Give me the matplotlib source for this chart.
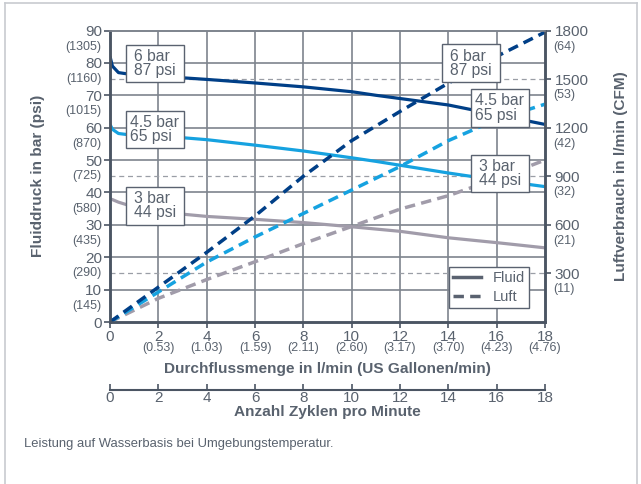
import matplotlib
matplotlib.use("Agg")
import matplotlib.pyplot as plt
from matplotlib.lines import Line2D
from matplotlib.patches import Rectangle

plt.rcParams['font.family'] = ['Liberation Sans', 'DejaVu Sans']

# flow (l/min) sample points
flow = [0, 0.1, 0.35, 1, 2, 3, 4, 6, 8, 10, 11, 12, 14, 16, 18]
# fluid pressure (bar) for the three air inlet pressures
fluid_6 = [82, 79, 77, 76.3, 75.8, 75.4, 74.9, 73.8, 72.6, 71.1, 70.0, 69.0, 67.0, 64.0, 61.0]
fluid_45 = [61, 59.5, 58.2, 57.6, 57.2, 56.9, 56.3, 54.6, 52.8, 50.7, 49.6, 48.4, 46.0, 43.8, 41.8]
fluid_3 = [38, 37.8, 37.0, 35.5, 34.3, 33.3, 32.6, 31.7, 30.7, 29.4, 28.7, 28.0, 26.0, 24.5, 22.9]

# air consumption (l/min)
flow_air = [0, 2, 4, 6, 8, 10, 12, 14, 16, 18]
air_6 = [0, 215, 430, 655, 900, 1120, 1300, 1475, 1640, 1790]
air_45 = [0, 185, 370, 525, 670, 815, 960, 1120, 1250, 1345]
air_3 = [0, 146, 262, 372, 484, 590, 697, 780, 885, 1000]

# axis labels
bar_ticks = [0, 10, 20, 30, 40, 50, 60, 70, 80, 90]
psi_labels = ['', '(145)', '(290)', '(435)', '(580)', '(725)', '(870)', '(1015)', '(1160)', '(1305)']
air_ticks = [300, 600, 900, 1200, 1500, 1800]
cfm_labels = ['(11)', '(21)', '(32)', '(42)', '(53)', '(64)']
x_ticks = [0, 2, 4, 6, 8, 10, 12, 14, 16, 18]
gal_labels = ['', '(0.53)', '(1.03)', '(1.59)', '(2.11)', '(2.60)', '(3.17)', '(3.70)', '(4.23)', '(4.76)']

# pressure label boxes: (x, y in bar, text)
boxes = [(1.86, 79.8, '6 bar\n87 psi'), (1.86, 59.5, '4.5 bar\n65 psi'),
         (1.86, 35.9, '3 bar\n44 psi'), (14.92, 79.9, '6 bar\n87 psi'),
         (16.13, 66.1, '4.5 bar\n65 psi'), (16.13, 45.9, '3 bar\n44 psi')]

navy = '#003f87'
light = '#16a2e0'
grey = '#a19caa'
txt = '#59626e'
axcol = '#4b5563'
gridcol = '#7e848d'
tick_fs = 11
minor_fs = 9
label_fs = 11.1

fig = plt.figure(figsize=(6.41, 4.84), dpi=100)
ax = fig.add_axes([110 / 641, 1 - 322 / 484, 435 / 641, 291.5 / 484])
ax2 = ax.twinx()

ax.set_xlim(0, 18)
ax.set_ylim(0, 90)
ax2.set_ylim(0, 1800)

# grid
for v in x_ticks[1:-1]:
    ax.axvline(v, color=gridcol, lw=1.2, zorder=0)
for v in bar_ticks[1:-1]:
    ax.axhline(v, color=gridcol, lw=1.2, zorder=0)
for v in [15, 45, 75]:
    ax.axhline(v, color='#9a9ea6', lw=0.9, ls=(0, (4, 3)), zorder=0)

lw = 2.3
ax.plot(flow, fluid_6, color=navy, lw=lw, solid_capstyle='butt')
ax.plot(flow, fluid_45, color=light, lw=lw, solid_capstyle='butt')
ax.plot(flow, fluid_3, color=grey, lw=lw, solid_capstyle='butt')

dash = (0, (3.0, 1.8))
ax2.plot(flow_air, air_3, color=grey, lw=2.5, ls=dash)
ax2.plot(flow_air, air_45, color=light, lw=2.5, ls=dash)
ax2.plot(flow_air, air_6, color=navy, lw=2.5, ls=dash)

# spines
for s in ['left', 'bottom', 'right']:
    ax.spines[s].set_color(axcol)
    ax.spines[s].set_linewidth(1.8)
    ax2.spines[s].set_color(axcol)
    ax2.spines[s].set_linewidth(1.8)
ax.spines['top'].set_color(gridcol)
ax2.spines['top'].set_color(gridcol)
ax.spines['top'].set_linewidth(1.2)
ax2.spines['top'].set_linewidth(1.2)

# left axis
ax.set_yticks(bar_ticks)
ax.set_yticklabels([str(v) for v in bar_ticks])
ax.set_yticks([v - 4.5 for v in bar_ticks[1:]], minor=True)
ax.set_yticklabels(psi_labels[1:], minor=True)
ax.tick_params(axis='y', which='major', length=4, width=1.2, color=axcol,
               labelsize=tick_fs, labelcolor=txt, pad=1.5)
ax.tick_params(axis='y', which='minor', length=0, labelsize=minor_fs, labelcolor=txt, pad=6)

# bottom axis
ax.set_xticks(x_ticks)
ax.set_xticklabels([str(v) for v in x_ticks])
ax.tick_params(axis='x', which='major', length=4, width=1.2, color=axcol,
               labelsize=tick_fs, labelcolor=txt, pad=1.5)

gal = ax.secondary_xaxis('bottom')
gal.set_xticks(x_ticks)
gal.set_xticklabels(gal_labels)
gal.tick_params(length=0, labelsize=minor_fs, labelcolor=txt, pad=14.5)
gal.spines['bottom'].set_visible(False)

cyc = ax.secondary_xaxis(-0.233)
cyc.set_xticks(x_ticks)
cyc.set_xticklabels([str(v) for v in x_ticks])
cyc.tick_params(direction='in', length=4, width=1.2, color=axcol,
                labelsize=tick_fs, labelcolor=txt, pad=1)
cyc.spines['bottom'].set_color(axcol)
cyc.spines['bottom'].set_linewidth(1.5)
cyc.set_xlabel('Anzahl Zyklen pro Minute', fontsize=label_fs, fontweight='bold',
               color=txt, labelpad=0)

# right axis
ax2.set_yticks(air_ticks)
ax2.set_yticklabels([str(v) for v in air_ticks])
ax2.set_yticks([v - 90 for v in air_ticks], minor=True)
ax2.set_yticklabels(cfm_labels, minor=True)
ax2.tick_params(axis='y', which='major', length=4, width=1.2, color=axcol,
                labelsize=tick_fs, labelcolor=txt, pad=3)
ax2.tick_params(axis='y', which='minor', length=0, labelsize=minor_fs, labelcolor=txt, pad=5.8)

ax.set_ylabel('Fluiddruck in bar (psi)', fontsize=label_fs, fontweight='bold', color=txt)
ax.yaxis.set_label_coords(-0.150, 0.5)
ax2.set_ylabel('Luftverbrauch in l/min (CFM)', fontsize=label_fs, fontweight='bold', color=txt)
ax2.yaxis.set_label_coords(1.159, 0.5)
ax.set_xlabel('Durchflussmenge in l/min (US Gallonen/min)', fontsize=label_fs,
              fontweight='bold', color=txt)
ax.xaxis.set_label_coords(0.5, -0.137)

# pressure label boxes
bw, bh = 2.4, 11.6
for x, y, label in boxes:
    ax2.add_patch(Rectangle((x - bw / 2, y - bh / 2), bw, bh, transform=ax.transData,
                            facecolor='white', edgecolor='#5a6270', lw=1.0, zorder=5))
    ax2.text(x, y, label, transform=ax.transData, ha='center', va='center',
             multialignment='left', fontsize=11.3, color=txt, linespacing=0.95, zorder=6)

handles = [Line2D([], [], color='#5a6270', lw=2.5),
           Line2D([], [], color='#5a6270', lw=2.5, ls=dash)]
leg = ax2.legend(handles, ['Fluid', 'Luft'], loc='lower right',
                 bbox_to_anchor=(0.963, 0.048), borderaxespad=0, fancybox=False,
                 edgecolor='#5a6270', fontsize=10.5, labelcolor=txt, handlelength=1.9,
                 framealpha=1, borderpad=0.3, labelspacing=0.3)
leg.get_frame().set_linewidth(1.0)
leg.set_zorder(7)

fig.text(24 / 641, 1 - 444 / 484, 'Leistung auf Wasserbasis bei Umgebungstemperatur.',
         fontsize=9.4, color=txt, va='center')

# outer frame
fr = '#c8cbd0'
fig.add_artist(Line2D([5 / 641, 5 / 641], [0, 1 - 3 / 484], color=fr, lw=1.2))
fig.add_artist(Line2D([5 / 641, 637 / 641], [1 - 3 / 484, 1 - 3 / 484], color=fr, lw=1.2))
fig.add_artist(Line2D([637 / 641, 637 / 641], [0, 1 - 3 / 484], color=fr, lw=1.2))

fig.savefig('out.png', dpi=100)
